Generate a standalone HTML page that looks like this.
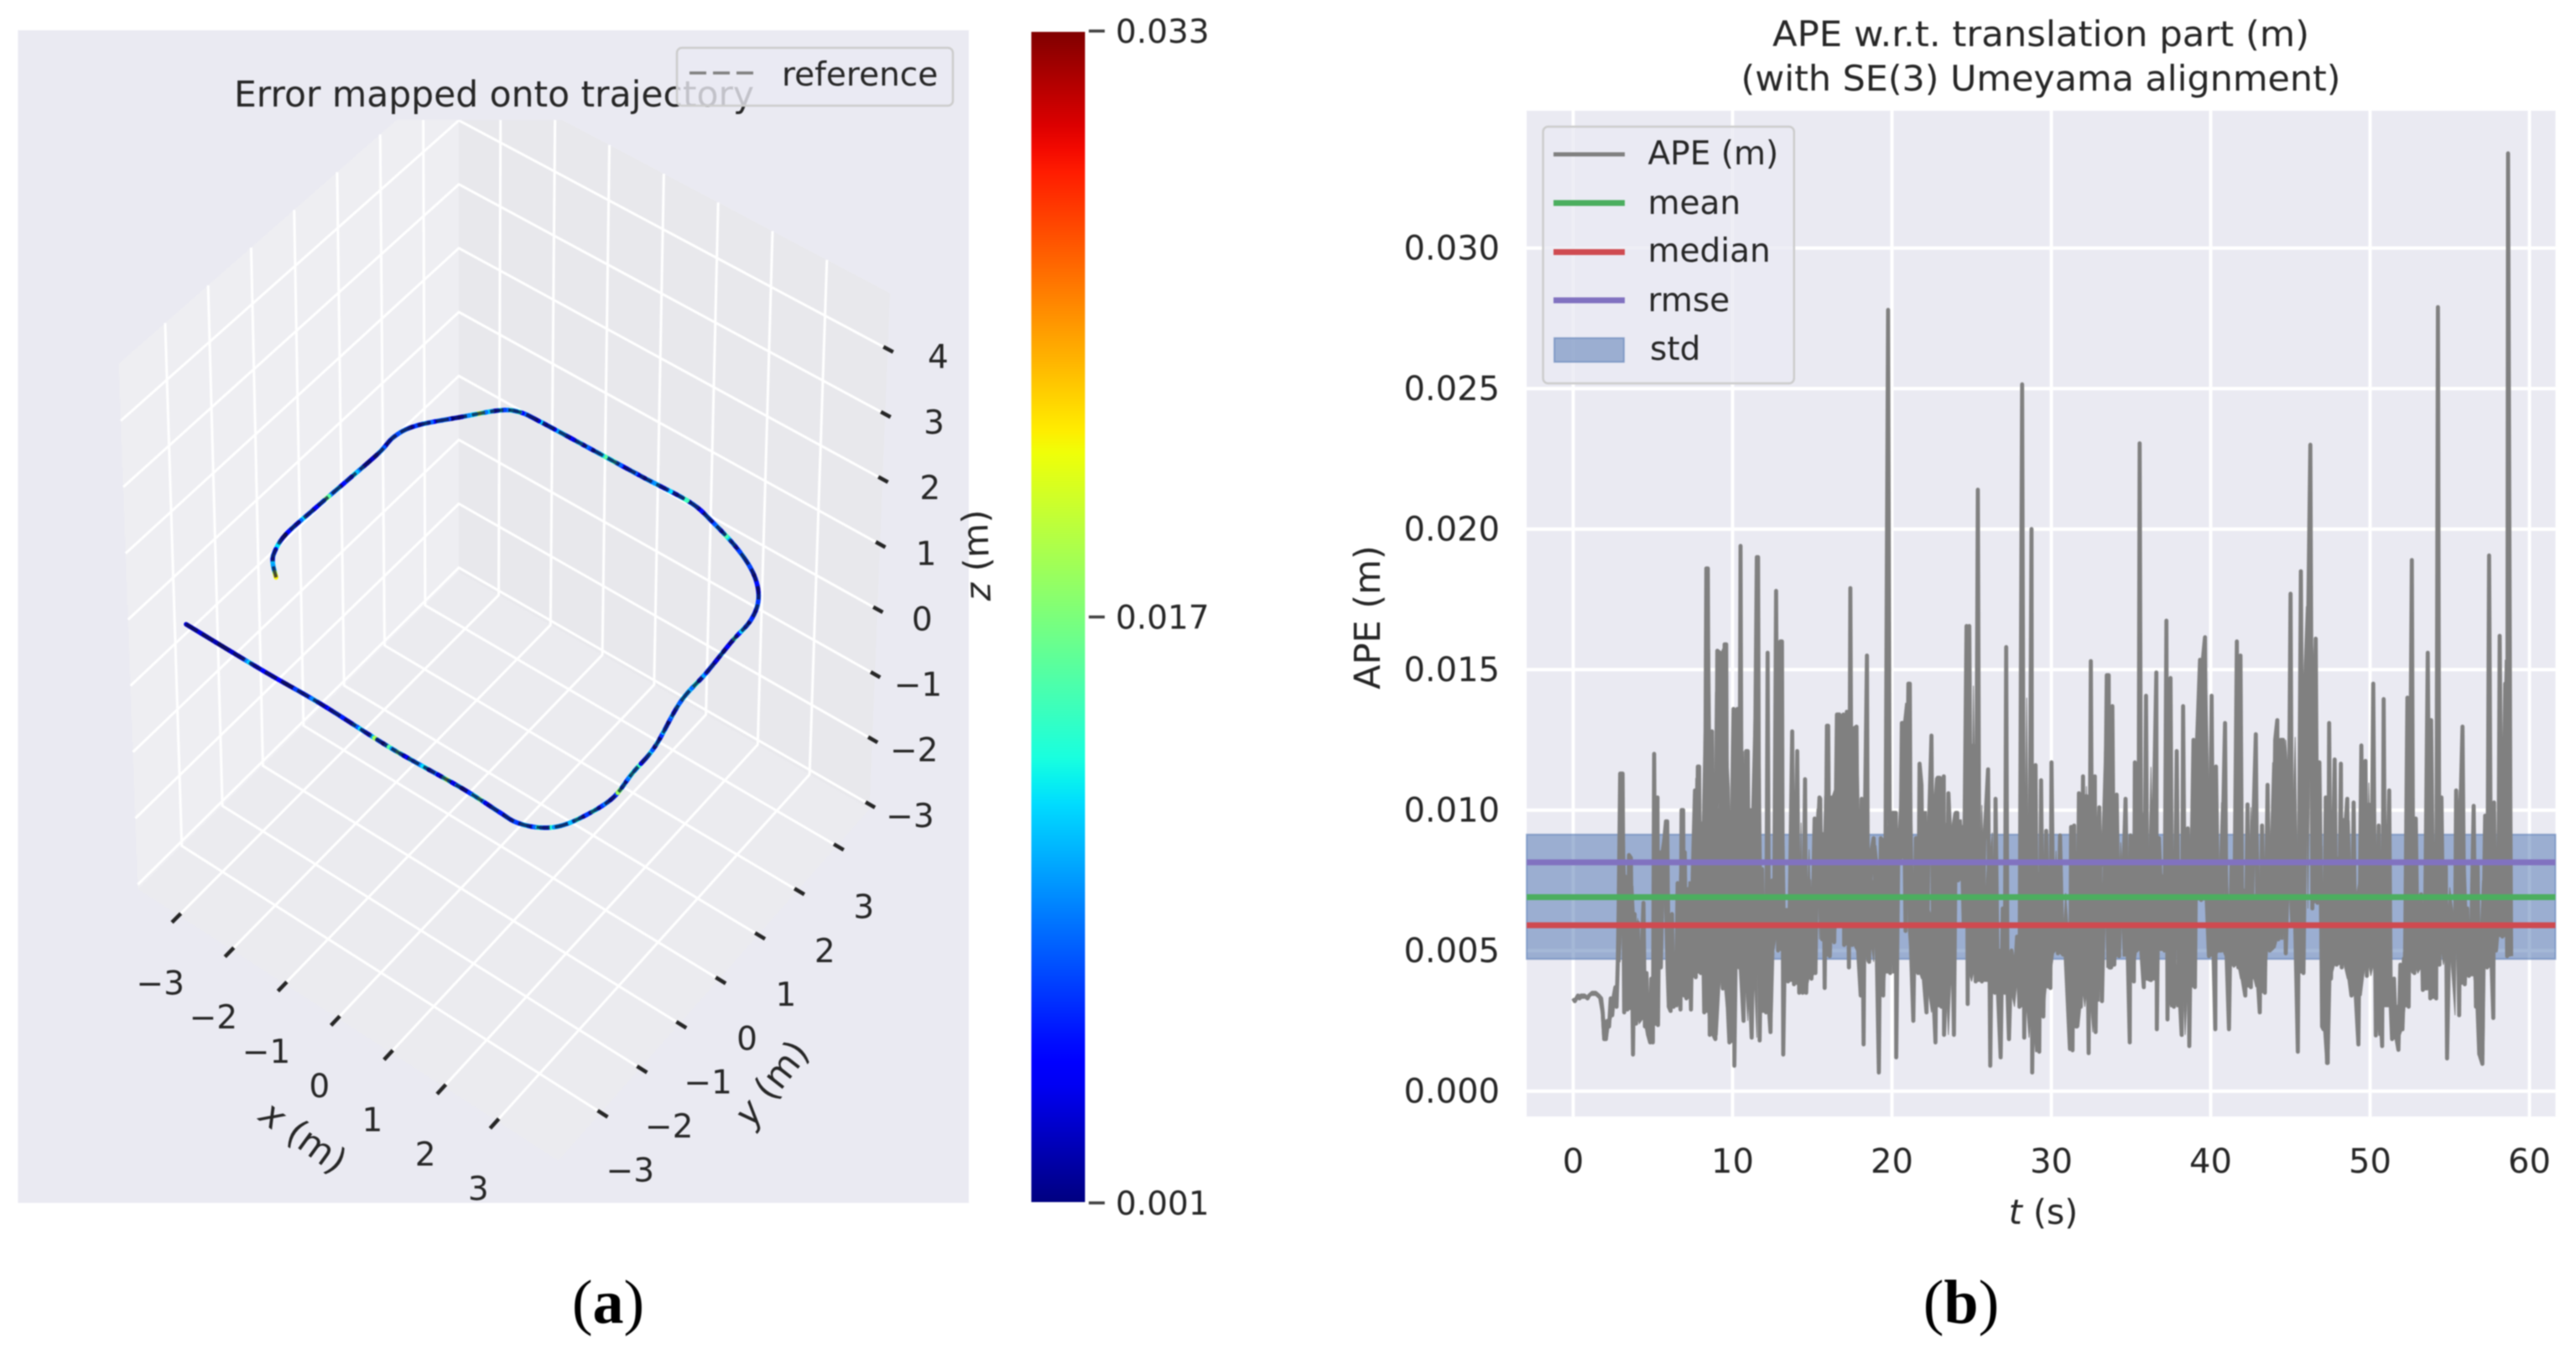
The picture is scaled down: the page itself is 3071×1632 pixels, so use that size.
<!DOCTYPE html>
<html lang="en">
<head>
<meta charset="utf-8">
<title>Error mapped onto trajectory and APE plot</title>
<style>
html,body{margin:0;padding:0;background:#fff;width:3071px;height:1632px;overflow:hidden}
svg{display:block;filter:blur(0.9px)}
text{font-family:"DejaVu Sans","Liberation Sans",sans-serif;fill:#262626}
.tick{font-size:39px}
.axis-num{font-size:40px}
.serif{font-family:"Liberation Serif",serif;font-size:74px;fill:#000}
</style>
</head>
<body>
<svg id="fig" xmlns="http://www.w3.org/2000/svg" width="3071" height="1632" viewBox="0 0 3071 1632">
  <defs>
    <clipPath id="pane-clip"><rect x="21" y="143" width="1134" height="1291"/></clipPath>
    <linearGradient id="jet-gradient" x1="0" y1="1" x2="0" y2="0"></linearGradient>
  </defs>
  <rect width="3071" height="1632" fill="#fff"/>

  <g id="panel-a">
    <rect x="21.4" y="36" width="1133.6" height="1398" fill="#eaeaf2"/>
    <g id="panes" clip-path="url(#pane-clip)"></g>
    <g id="traj"></g>
    <g id="ticks3d"></g>
    <text x="589" y="127" text-anchor="middle" font-size="43" textLength="620" lengthAdjust="spacingAndGlyphs">Error mapped onto trajectory</text>
    <text transform="translate(360,1358) rotate(36)" text-anchor="middle" dominant-baseline="middle" font-size="43"><tspan font-style="italic">x</tspan> (m)</text>
    <text transform="translate(922,1293) rotate(-52)" text-anchor="middle" dominant-baseline="middle" font-size="43"><tspan font-style="italic">y</tspan> (m)</text>
    <text transform="translate(1167,662) rotate(-92)" text-anchor="middle" dominant-baseline="middle" font-size="42"><tspan font-style="italic">z</tspan> (m)</text>
    <g>
      <rect x="807" y="57" width="329" height="69" rx="6" fill="#eaeaf2" fill-opacity="0.8" stroke="#cccccc" stroke-width="2.5"/>
      <line x1="822" y1="87" x2="899" y2="87" stroke="#808080" stroke-width="3.6" stroke-dasharray="20 8"/>
      <text x="932" y="102" class="tick">reference</text>
    </g>
  </g>

  <g id="colorbar">
    <rect x="1229.5" y="38" width="64" height="1395" fill="url(#jet-gradient)"/>
  </g>

  <g id="panel-b">
    <rect x="1820" y="132" width="1226.5" height="1199" fill="#eaeaf2"/>
    <g id="grid2d"></g>
    <g id="series"></g>
    <g id="axis2d"></g>
    <text x="2433" y="55" text-anchor="middle" font-size="42" textLength="640" lengthAdjust="spacingAndGlyphs">APE w.r.t. translation part (m)</text>
    <text x="2433" y="108" text-anchor="middle" font-size="42" textLength="715" lengthAdjust="spacingAndGlyphs">(with SE(3) Umeyama alignment)</text>
    <text transform="translate(1645,736) rotate(-90)" text-anchor="middle" font-size="43">APE (m)</text>
    <text x="2436" y="1459" text-anchor="middle" font-size="41"><tspan font-style="italic">t</tspan> (s)</text>
    <g>
      <rect x="1839.6" y="151" width="299.2" height="306" rx="6" fill="#eaeaf2" fill-opacity="0.8" stroke="#cccccc" stroke-width="2.5"/>
      <line x1="1852" y1="184" x2="1937" y2="184" stroke="#808080" stroke-width="5"/>
      <text x="1964.5" y="196" class="tick">APE (m)</text>
      <line x1="1852" y1="242" x2="1937" y2="242" stroke="#4cae5f" stroke-width="7"/>
      <text x="1964.5" y="255" class="tick">mean</text>
      <line x1="1852" y1="300.5" x2="1937" y2="300.5" stroke="#cf4a50" stroke-width="7"/>
      <text x="1964.5" y="312" class="tick">median</text>
      <line x1="1852" y1="358" x2="1937" y2="358" stroke="#8172c0" stroke-width="7"/>
      <text x="1964.5" y="371" class="tick">rmse</text>
      <rect x="1853" y="403" width="83" height="28.5" fill="#4c72b0" fill-opacity="0.5" stroke="#4c72b0" stroke-opacity="0.5" stroke-width="2"/>
      <text x="1967" y="429" class="tick">std</text>
    </g>
  </g>

  <text x="725" y="1577" text-anchor="middle" class="serif">(<tspan font-weight="bold">a</tspan>)</text>
  <text x="2338" y="1577" text-anchor="middle" class="serif">(<tspan font-weight="bold">b</tspan>)</text>
</svg>

<script>
// ---------- Panel (b) data ----------
const timeTicks = [0, 10, 20, 30, 40, 50, 60];
const apeTicks = [0, 0.005, 0.01, 0.015, 0.02, 0.025, 0.03];
const meanValue = 0.0069;
const medianValue = 0.0059;
const rmseValue = 0.00814;
const stdLow = 0.0047;
const stdHigh = 0.00913;
// [time in s, APE in mm]
const apeSamples = [
[0,3.3],[0.1,3.2],[0.2,3.3],[0.3,3.4],[0.4,3.3],[0.5,3.4],[0.7,3.4],[0.9,3.3],[1.0,3.4],[1.2,3.5],[1.4,3.5],[1.6,3.4],[1.75,3.3],[1.85,2.8],[1.95,1.85],[2.05,1.85],[2.15,2.5],[2.25,2.3],[2.35,3.3],[2.45,2.7],[2.55,3.4],[2.65,3.7],[2.72,3.0],[2.8,4.6],[2.85,6.5],[2.95,11.3],[3.1,11.3],[3.2,2.8],[3.28,7],[3.4,2.9],[3.5,8.4],[3.62,8.3],[3.75,1.3],[3.85,6.3],[3.95,2.4],[4.05,6.0],[4.15,2.6],[4.41,6.7],[4.5,2.3],[4.6,4.2],[4.7,2.0],[4.83,1.73],[4.9,4.0],[5.0,1.73],[5.08,12],[5.18,2.4],[5.29,10.45],[5.32,2.35],[5.42,8.5],[5.5,4.4],[5.65,8.5],[5.82,9.6],[5.9,9.6],[6.0,3.0],[6.11,2.85],[6.2,6.3],[6.3,3.0],[6.46,3.4],[6.55,7.4],[6.73,2.9],[6.8,10],[6.9,10],[6.96,3.4],[7.0,8.5],[7.1,3.3],[7.25,7.2],[7.39,2.9],[7.5,7.7],[7.64,10.7],[7.69,4.05],[7.82,11.55],[7.9,11.55],[8.0,4.2],[8.1,7.6],[8.22,2.8],[8.35,18.6],[8.45,18.6],[8.57,2.0],[8.71,12.8],[8.8,2.0],[8.92,1.85],[9.04,15.67],[9.2,15.6],[9.3,4.5],[9.39,3.65],[9.5,15.9],[9.6,15.9],[9.7,3.0],[9.8,1.73],[9.92,8],[10.06,13.6],[10.11,0.9],[10.2,5],[10.3,13.6],[10.41,4.4],[10.5,19.4],[10.6,3.5],[10.69,2.5],[10.85,12.1],[10.95,12.1],[11.05,4.2],[11.2,1.9],[11.35,8.0],[11.52,19],[11.6,19],[11.7,1.8],[11.85,7.9],[11.95,4.1],[12.1,2.8],[12.2,15.6],[12.3,2.8],[12.38,2.1],[12.5,7.5],[12.6,5.5],[12.73,17.8],[12.85,5],[13.0,16],[13.1,16],[13.18,1.3],[13.3,6],[13.48,3.9],[13.6,7],[13.74,12.8],[13.85,3.8],[14.06,12.1],[14.18,3.5],[14.3,8],[14.4,3.5],[14.55,11.1],[14.62,3.5],[14.8,7.5],[14.95,4],[15.15,9.7],[15.2,4.2],[15.3,8.5],[15.45,10.45],
[15.5,10.4],[15.62,5.4],[15.72,8],[15.78,3.67],[15.92,13],[16.0,13],[16.1,4.8],[16.25,8],[16.38,5.3],[16.55,13.4],[16.7,13.4],[16.82,6],[16.95,13.4],[17.0,5.2],[17.17,13.5],[17.3,4.4],[17.39,17.9],[17.5,5.2],[17.6,12.9],[17.78,12.97],[17.88,5],[18.04,3.4],[18.1,10.4],[18.22,1.66],[18.32,10.4],[18.43,15.5],[18.5,5.2],[18.57,4.6],[18.7,8.5],[18.85,9.0],[19.0,6.5],[19.18,0.66],[19.3,9.0],[19.45,3.4],[19.6,9],[19.76,27.8],[19.89,4.2],[20.05,9.9],[20.24,9.9],[20.27,1.2],[20.4,8.8],[20.55,8.3],[20.62,13.1],[20.72,13.1],[20.85,5.7],[21.03,14.5],[21.12,14.5],[21.2,5],[21.34,2.5],[21.5,9],[21.64,4.2],[21.73,11.65],[21.85,10.9],[22.0,4],[22.17,2.8],[22.3,9],[22.48,12.65],[22.6,3.5],[22.73,1.73],[22.87,11.15],[23.0,11.15],[23.1,3],[23.25,11.2],[23.27,2],[23.4,4],[23.54,10.6],[23.7,8.5],[23.89,2],[24.01,9.9],[24.1,9.9],[24.15,7.5],[24.36,9.4],[24.5,6],[24.68,16.55],[24.75,3.1],[24.85,16.55],[25.0,4.2],[25.11,12.3],[25.25,3.9],[25.39,21.4],[25.5,4.1],[25.64,3.9],[25.8,8.9],[26.03,11.45],[26.17,0.9],[26.3,8],[26.46,3.5],[26.5,10.4],[26.65,3.6],[26.82,1.2],[26.95,6.5],[27.08,3.5],[27.17,15.8],[27.25,3.5],[27.34,1.85],[27.5,5],[27.69,3.9],[27.85,5.5],[28.0,3.0],[28.17,25.15],[28.3,1.9],[28.45,8],[28.6,3],[28.76,20],[28.8,0.66],[29.01,11.6],[29.1,4.5],[29.24,1.4],[29.36,11.06],[29.5,2.65],[29.68,9.26],[29.85,4.3],[29.94,3.67],[30.01,11.7],[30.15,5],[30.3,8],[30.41,4.9],[30.55,9.1],[30.7,5],[30.9,4.8],[31.17,1.5],[31.24,9.4],
[31.33,1.45],[31.43,9.45],[31.55,2.3],[31.61,2.3],[31.73,10.6],[31.85,3],[31.99,11.2],[32.1,3.5],[32.2,10.5],[32.34,1.35],[32.48,15.3],[32.6,3],[32.73,11.2],[32.78,2.1],[32.9,8],[33.01,10.1],[33.18,3.2],[33.35,8],[33.48,14.8],[33.6,14.8],[33.65,4.4],[33.75,4.4],[33.83,13.7],[33.95,4.5],[34.1,10.55],[34.25,4.8],[34.35,7.3],[34.5,7.3],[34.66,10.4],[34.8,4.8],[34.92,1.73],[34.97,9.1],[35.1,4.5],[35.18,3.9],[35.24,11.7],[35.35,5],[35.47,6.5],[35.54,23.05],[35.65,5.0],[35.8,3.7],[35.94,14.07],[36.05,4],[36.25,3.95],[36.4,9],[36.59,14.9],[36.62,2.2],[36.75,9],[36.94,6.4],[37.1,5],[37.22,16.74],[37.29,2.55],[37.48,14.7],[37.6,3.5],[37.69,3],[37.87,12.1],[38.0,4],[38.18,2],[38.27,13.7],[38.4,4],[38.57,9.35],[38.66,1.6],[38.8,8],[38.92,12.5],[39.01,3.7],[39.15,12.5],[39.33,15.35],[39.4,6.8],[39.5,15.3],[39.64,16.15],[39.75,6.8],[39.89,4.8],[40.06,14.07],[40.18,4.8],[40.29,2.2],[40.33,11.55],[40.5,5],[40.68,5],[40.75,9],[40.9,13.1],[41.0,4.8],[41.15,2.2],[41.3,8],[41.45,4.5],[41.64,16],[41.73,4.4],[41.87,15.5],[42.0,4],[42.17,3.4],[42.31,10.2],[42.4,4],[42.52,3.7],[42.7,10],[42.83,12.7],[42.95,4],[43.08,2.8],[43.22,9.45],[43.4,3.5],[43.57,10.9],[43.7,5],[43.89,5.1],[44.05,12.5],[44.18,13.2],[44.24,5.4],[44.4,12.5],[44.54,12.5],[44.71,4.9],[44.9,9],[45.01,17.7],[45.1,7.5],[45.3,6],[45.47,1.4],[45.66,18.5],[45.82,4.2],[46.0,13],[46.1,16],[46.25,23],[46.38,6.5],[46.59,16.1],[46.7,6.7],[46.82,11.7],[46.92,7.0],[46.99,2.3],
[47.08,2.2],[47.22,10.45],[47.3,1],[47.34,1],[47.43,13.1],[47.55,4],[47.78,11.8],[47.9,4.5],[48.05,5],[48.17,11.65],[48.22,4.4],[48.4,9],[48.57,10.4],[48.7,4],[48.83,3.4],[48.97,10.27],[49.1,3.4],[49.27,1.66],[49.45,12.3],[49.6,4.5],[49.71,11.75],[49.8,4.1],[49.92,10.2],[50.05,4.5],[50.2,14.5],[50.36,1.98],[50.54,9.45],[50.65,3],[50.76,1.6],[50.85,13.95],[50.97,4],[51.2,10.7],[51.3,3],[51.38,1.85],[51.5,4.0],[51.62,2],[51.78,1.47],[51.9,4.5],[52.03,2.2],[52.2,5],[52.34,14],[52.42,3],[52.62,18.9],[52.72,4.5],[52.78,4.2],[52.87,9.7],[53.0,4.4],[53.2,7],[53.31,3.6],[53.45,6],[53.62,15.6],[53.78,3.3],[53.83,13.2],[54.0,4.5],[54.15,3.3],[54.26,27.9],[54.35,4.5],[54.48,10.45],[54.6,5],[54.75,8],[54.83,1.16],[55.0,6.5],[55.33,5.2],[55.4,10.7],[55.59,2.7],[55.7,10.7],[55.8,12.97],[55.94,3.8],[56.1,6.5],[56.2,4.1],[56.35,5.5],[56.5,10.15],[56.64,3],[56.75,8],[56.87,1.3],[57.05,0.97],[57.15,7],[57.22,9.8],[57.34,4.4],[57.47,19.06],[57.6,5],[57.73,2.6],[57.78,10.27],[57.9,5],[58.05,6.0],[58.13,16.2],[58.3,5.5],[58.48,14.5],[58.6,4.8],[58.66,33.37],[58.8,10.5],[58.85,4.8]
];

// ---------- Panel (a) data ----------
const xTicks3d = [-3, -2, -1, 0, 1, 2, 3];
const yTicks3d = [-3, -2, -1, 0, 1, 2, 3];
const zTicks3d = [-3, -2, -1, 0, 1, 2, 3, 4];
const trajX = [-3.146,-1.728,-0.677,0.649,1.910,2.62,2.93,3.24,3.49,3.67,3.788,3.739,3.704,3.496,3.471,3.414,3.396,3.240,2.907,2.407,1.764,1.261,0.373,-0.582,-1.536,-1.872,-2.125,-2.497,-2.918,-3.046,-3.024,-3.051,-3.082,-3.099,-3.017,-2.908,-2.690];
const trajY = [-3.507,-3.507,-3.482,-3.511,-3.47,-3.49,-3.49,-3.37,-3.14,-2.74,-2.248,-1.710,-1.108,-0.204,0.457,1.160,1.655,2.050,2.377,2.634,2.841,2.950,2.930,2.917,2.901,2.871,2.730,2.284,1.742,1.368,0.953,0.221,-0.511,-1.180,-1.549,-1.737,-1.939];
const trajZ = [0.9,0.9,0.9,0.9,0.9,0.9,0.9,0.9,0.9,0.9,0.9,0.9,0.9,0.9,0.9,0.9,0.9,0.9,0.9,0.9,0.9,0.9,0.9,0.9,0.9,0.9,0.9,0.9,0.9,0.9,0.9,0.9,0.9,0.9,0.9,0.9,0.9];
const colorbarValues = [0.001, 0.017, 0.033];
const colorbarLabels = ["0.001", "0.017", "0.033"];

// ---------- helpers ----------
const NS = "http://www.w3.org/2000/svg";
function make(tag, attrs, parent, text) {
  const el = document.createElementNS(NS, tag);
  for (const k in attrs) el.setAttribute(k, attrs[k]);
  if (text !== undefined) el.textContent = text;
  parent.appendChild(el);
  return el;
}
const byId = id => document.getElementById(id);
const pts = arr => arr.map(p => p[0].toFixed(1) + "," + p[1].toFixed(1)).join(" ");
const minus = v => (v < 0 ? "\u2212" + Math.abs(v) : String(v));

// ---------- panel (b) scales ----------
const tToX = t => 1875.5 + 19.0 * t;
const apeToY = v => 1300.7 - 33500 * v;
const PLOT_L = 1820, PLOT_R = 3046.5, PLOT_T = 132, PLOT_B = 1331;

const grid2d = byId("grid2d");
const axis2d = byId("axis2d");
timeTicks.forEach(t => {
  const gl = make("line", {x1: tToX(t), x2: tToX(t), y1: PLOT_T, y2: PLOT_B, stroke: "#fff", "stroke-width": 4}, grid2d);
  
  
  const lb = make("text", {x: tToX(t), y: 1398, "text-anchor": "middle", class: "axis-num"}, axis2d, String(t));
  
  
});
apeTicks.forEach(v => {
  const gl = make("line", {x1: PLOT_L, x2: PLOT_R, y1: apeToY(v), y2: apeToY(v), stroke: "#fff", "stroke-width": 4}, grid2d);
  
  
  const lb = make("text", {x: 1788, y: apeToY(v) + 14, "text-anchor": "end", class: "axis-num"}, axis2d, v.toFixed(3));
  
  
});

const series = byId("series");
const band = make("rect", {x: PLOT_L, width: PLOT_R - PLOT_L, y: apeToY(stdHigh), height: apeToY(stdLow) - apeToY(stdHigh), fill: "#4c72b0", "fill-opacity": 0.5, stroke: "#4c72b0", "stroke-opacity": 0.5, "stroke-width": 2}, series);



// The sampled signal is far denser than the readable peaks: the body between
// neighbouring samples is solid, so shade it from the series' own 5-sample window.
const bodyUpper = [], bodyLower = [];
apeSamples.forEach((s, i) => {
  const win = apeSamples.slice(Math.max(0, i - 2), i + 3).map(w => w[1]).sort((a, b) => b - a);
  const up = win.length > 2 ? (win[1] + win[2]) / 2 : win[0];
  bodyUpper.push([tToX(s[0]), apeToY(up / 1000)]);
  bodyLower.push([tToX(s[0]), apeToY(win[win.length - 2] / 1000)]);
});
const apeBody = make("polygon", {points: pts(bodyUpper.concat(bodyLower.slice().reverse())), fill: "#808080", stroke: "#808080", "stroke-width": 1}, series);



const apeLine = make("polyline", {points: pts(apeSamples.map(s => [tToX(s[0]), apeToY(s[1] / 1000)])), fill: "none", stroke: "#808080", "stroke-width": 4.8, "stroke-linejoin": "round"}, series);


const meanLine = make("line", {x1: PLOT_L, x2: PLOT_R, y1: apeToY(meanValue), y2: apeToY(meanValue), stroke: "#4cae5f", "stroke-width": 7}, series);


const medianLine = make("line", {x1: PLOT_L, x2: PLOT_R, y1: apeToY(medianValue), y2: apeToY(medianValue), stroke: "#cf4a50", "stroke-width": 7}, series);


const rmseLine = make("line", {x1: PLOT_L, x2: PLOT_R, y1: apeToY(rmseValue), y2: apeToY(rmseValue), stroke: "#8172c0", "stroke-width": 7}, series);



// ---------- jet colormap ----------
function piece(t, knots) {
  for (let i = 1; i < knots.length; i++) {
    if (t <= knots[i][0]) {
      const a = knots[i - 1], b = knots[i];
      return a[1] + (b[1] - a[1]) * (t - a[0]) / (b[0] - a[0]);
    }
  }
  return knots[knots.length - 1][1];
}
const JET_R = [[0,0],[0.35,0],[0.66,1],[0.89,1],[1,0.5]];
const JET_G = [[0,0],[0.125,0],[0.375,1],[0.64,1],[0.91,0],[1,0]];
const JET_B = [[0,0.5],[0.11,1],[0.34,1],[0.65,0],[1,0]];
function jet(t) {
  t = Math.max(0, Math.min(1, t));
  return "rgb(" + Math.round(255 * piece(t, JET_R)) + "," + Math.round(255 * piece(t, JET_G)) + "," + Math.round(255 * piece(t, JET_B)) + ")";
}
const grad = byId("jet-gradient");
for (let i = 0; i <= 50; i++) {
  make("stop", {offset: i / 50, "stop-color": jet(i / 50)}, grad);
}

// ---------- colorbar ----------
const cbMin = colorbarValues[0], cbMax = colorbarValues[colorbarValues.length - 1];
const cbToY = v => 1434 - (1434 - 37) * (v - cbMin) / (cbMax - cbMin);
const cbGroup = byId("colorbar");
colorbarValues.forEach((v, i) => {
  const tk = make("line", {x1: 1298, x2: 1317, y1: cbToY(v), y2: cbToY(v), stroke: "#404040", "stroke-width": 3.5}, cbGroup);
  
  
  const lb = make("text", {x: 1330, y: cbToY(v) + 14, class: "tick"}, cbGroup, colorbarLabels[i]);
  
  
});

// ---------- 3D projection (trilinear through the box corners) ----------
const XLIM = [-3.77, 4.16], YLIM = [-4.08, 3.83], ZLIM = [-3.07, 4.86];
const BOX = {
  b00: [164.5, 1060], b10: [665.6, 1383.6], b11: [1036.7, 964.5], b01: [547, 682],
  t00: [141.5, 433.7], t10: [667, 733.6], t11: [1061, 349.5], t01: [547, 78]
};
function project(x, y, z) {
  const u = (x - XLIM[0]) / (XLIM[1] - XLIM[0]);
  const v = (y - YLIM[0]) / (YLIM[1] - YLIM[0]);
  const w = (z - ZLIM[0]) / (ZLIM[1] - ZLIM[0]);
  const out = [0, 0];
  for (let k = 0; k < 2; k++) {
    const bot = BOX.b00[k] * (1 - u) * (1 - v) + BOX.b10[k] * u * (1 - v) + BOX.b11[k] * u * v + BOX.b01[k] * (1 - u) * v;
    const top = BOX.t00[k] * (1 - u) * (1 - v) + BOX.t10[k] * u * (1 - v) + BOX.t11[k] * u * v + BOX.t01[k] * (1 - u) * v;
    out[k] = bot * (1 - w) + top * w;
  }
  return out;
}
const X0 = XLIM[0], X1 = XLIM[1], Y0 = YLIM[0], Y1 = YLIM[1], Z0 = ZLIM[0], Z1 = ZLIM[1];
const panes = byId("panes");
const wallX = make("polygon", {points: pts([project(X0,Y0,Z0), project(X0,Y1,Z0), project(X0,Y1,Z1), project(X0,Y0,Z1)]), fill: "#eeeef2"}, panes);


const wallY = make("polygon", {points: pts([project(X0,Y1,Z0), project(X1,Y1,Z0), project(X1,Y1,Z1), project(X0,Y1,Z1)]), fill: "#e8e8ec"}, panes);


const floorPane = make("polygon", {points: pts([project(X0,Y0,Z0), project(X1,Y0,Z0), project(X1,Y1,Z0), project(X0,Y1,Z0)]), fill: "#ebebef"}, panes);



const gridAttrs = {fill: "none", stroke: "#fff", "stroke-width": 3, "stroke-linejoin": "round"};
xTicks3d.forEach(x => {
  const g = make("polyline", Object.assign({points: pts([project(x,Y0,Z0), project(x,Y1,Z0), project(x,Y1,Z1)])}, gridAttrs), panes);
  
  
});
yTicks3d.forEach(y => {
  const g = make("polyline", Object.assign({points: pts([project(X1,y,Z0), project(X0,y,Z0), project(X0,y,Z1)])}, gridAttrs), panes);
  
  
});
zTicks3d.forEach(z => {
  const g = make("polyline", Object.assign({points: pts([project(X0,Y0,z), project(X0,Y1,z), project(X1,Y1,z)])}, gridAttrs), panes);
  
  
});

// ---------- ticks ----------
const ticks3d = byId("ticks3d");
function tick3d(a, b, name) {
  const t = make("line", {x1: a[0], y1: a[1], x2: b[0], y2: b[1], stroke: "#262626", "stroke-width": 4.6}, ticks3d);
  
  
}
function label3d(p, dx, dy, val, name) {
  const l = make("text", {x: p[0] + dx, y: p[1] + dy + 14, "text-anchor": "middle", class: "tick"}, ticks3d, minus(val));
  
  
}
xTicks3d.forEach(x => {
  tick3d(project(x, Y0 + 0.05, Z0), project(x, Y0 - 0.17, Z0), 'x-tick-mark');
  label3d(project(x, Y0, Z0), -22, 80, x, 'x-tick-label-3d');
});
yTicks3d.forEach(y => {
  tick3d(project(X1 - 0.06, y, Z0), project(X1 + 0.13, y, Z0), 'y-tick-mark');
  label3d(project(X1, y, Z0), 33.5 - 0.5 * y, 70 + 0.7 * y, y, 'y-tick-label-3d');
});
zTicks3d.forEach(z => {
  tick3d(project(X1 - 0.08, Y1, z), project(X1 + 0.1, Y1, z), 'z-tick-mark');
  label3d(project(X1, Y1, z), 48 + (z + 3) * 12 / 7, 11 - 0.6 * z, z, 'z-tick-label-3d');
});

// ---------- trajectory: smooth path coloured by APE samples ----------
const ctrl = trajX.map((x, i) => project(x, trajY[i], trajZ[i]));
const dense = [];
for (let i = 0; i < ctrl.length - 1; i++) {
  const p0 = ctrl[Math.max(i - 1, 0)], p1 = ctrl[i], p2 = ctrl[i + 1], p3 = ctrl[Math.min(i + 2, ctrl.length - 1)];
  const steps = Math.max(2, Math.round(Math.hypot(p2[0] - p1[0], p2[1] - p1[1]) / 4));
  for (let s = 0; s < steps; s++) {
    const t = s / steps, t2 = t * t, t3 = t2 * t;
    const c = k => 0.5 * (2 * p1[k] + (p2[k] - p0[k]) * t + (2 * p0[k] - 5 * p1[k] + 4 * p2[k] - p3[k]) * t2 + (3 * p1[k] - p0[k] - 3 * p2[k] + p3[k]) * t3);
    dense.push([c(0), c(1)]);
  }
}
dense.push(ctrl[ctrl.length - 1]);
const trajGroup = byId("traj");
for (let i = 0; i < dense.length - 1; i++) {
  const k = Math.min(apeSamples.length - 2, Math.floor(i / dense.length * apeSamples.length));
  const err = (apeSamples[k][1] + apeSamples[k + 1][1]) / 2000;
  const seg = make("line", {x1: dense[i][0], y1: dense[i][1], x2: dense[i + 1][0], y2: dense[i + 1][1],
    stroke: jet((err - cbMin) / (cbMax - cbMin)), "stroke-width": 5.5, "stroke-linecap": "round"}, trajGroup);
  
  
}
const refLine = make("polyline", {points: pts(dense), fill: "none", stroke: "#10103a", "stroke-opacity": 0.75, "stroke-width": 4, "stroke-dasharray": "16 6"}, trajGroup);


</script>
</body>
</html>
